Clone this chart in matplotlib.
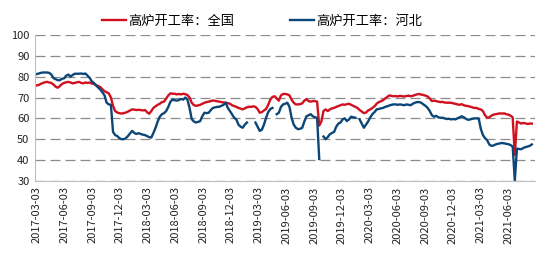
import numpy as np
import pandas as pd
import matplotlib
matplotlib.use("Agg")
import matplotlib.pyplot as plt

plt.rcParams["font.family"] = ["Noto Sans CJK SC", "DejaVu Sans"]

# weekly readings, one row per quarter (13 weeks), starting 2017-03-03
national = [
    75.8, 76, 76.5, 77, 77.3, 77.5, 77.2, 77, 76.2, 75.2, 74.7, 75.5, 76.5,
    77, 77.3, 77.5, 77.2, 76.8, 77, 77.3, 77.5, 77, 76.8, 77.2, 77, 77.2,
    76.7, 76.5, 76, 75.5, 75, 74, 73, 72.5, 72, 70, 66, 63.5, 62.8,
    62.5, 62.3, 62.5, 62.8, 63.2, 63.8, 64.3, 64.2, 64, 64.1, 64, 63.8, 64,
    63, 62.2, 63.5, 65, 65.8, 66.5, 67, 67.8, 68, 69.5, 71, 72, 71.8,
    71.8, 71.5, 71.7, 71.5, 71.8, 71.6, 71.2, 70, 67.5, 66.4, 66, 66.2, 66.5,
    67, 67.5, 67.8, 68, 68.3, 68.6, 68.4, 68.2, 68, 67.8, 67.6, 67.5, 67.3,
    67, 66.3, 65.9, 65.5, 65, 64.7, 64.3, 64.8, 65.3, 65.6, 65.5, 65.8, 65.5,
    64.5, 62.7, 63, 63.8, 64.5, 66.5, 69, 70.3, 70.6, 69.5, 68.5, 71, 71.7,
    71.7, 71.5, 71, 69, 67.5, 66.7, 66.7, 66.8, 67.2, 68.5, 69.2, 68.3, 68,
    68.3, 68.3, 68, 56.5, 58.5, 63.5, 64.3, 63.5, 64.3, 64.8, 65, 65.5, 65.9,
    66.3, 66.7, 66.5, 66.8, 67, 66.5, 66, 65.5, 65, 64, 63.3, 62.5, 62.8,
    63.8, 64.3, 65, 65.8, 67, 67.8, 68.2, 68.7, 69.5, 70.3, 71, 70.8, 70.6,
    70.7, 70.5, 70.8, 70.6, 70.5, 70.7, 70.9, 70.6, 70.8, 71.2, 71.5, 71.7, 71.4,
    71.2, 70.9, 70.5, 69.5, 68.3, 68.5, 68.3, 68, 67.8, 67.9, 67.6, 67.5, 67.5,
    67.5, 67.2, 67, 66.7, 66.5, 66.8, 66.3, 66, 65.9, 65.6, 65.3, 65, 65,
    64.5, 64.3, 63.5, 61.5, 60.3, 60.5, 61.3, 61.8, 62, 62.2, 62.4, 62.3, 62.4,
    62, 61.8, 61.3, 60.5, 42.5, 58.5, 58, 57.5, 57.8, 57.6, 57.3, 57.5, 57.5,
]

hebei = [
    81.2, 81.5, 81.8, 82, 82, 82, 81.8, 81, 79.3, 78.8, 78.3, 78.3, 79,
    79.2, 80.5, 81, 80, 80.8, 81.4, 81.4, 81.4, 81.5, 81.3, 81.5, 80.5, 79.4,
    77.8, 77, 75.8, 74.8, 73.8, 72.5, 71, 67.5, 66.7, 66.5, 53.5, 52, 51.5,
    50.5, 50, 50, 50.5, 51.5, 52.8, 54, 53, 52.5, 52.9, 52.5, 52.2, 52,
    51.5, 51, 50.8, 53, 55.5, 58.5, 60.8, 62, 62.5, 63.5, 65.5, 68, 69,
    68.7, 68.5, 68.8, 69.3, 69, 70, 69, 65, 59.7, 58.5, 58, 58.3, 58.7,
    61, 62.7, 62.5, 62.7, 64, 65, 65.3, 65.5, 65.6, 66, 66.5, 67.5, 65,
    63.5, 61.9, 60.3, 59.5, 57, 56, 55.5, 57, 58, np.nan, np.nan, np.nan, 58,
    56, 54, 54.5, 57, 60.3, 63, 64.5, 65, np.nan, 62, 62.7, 65.5, 66.7,
    67, 67.5, 65.5, 60.3, 57, 55.5, 54.8, 55, 55.5, 58.5, 61, 61.5, 62,
    61, 60.5, 60.3, 40.5, np.nan, 51.3, 50, 51, 52.4, 53, 53.5, 56, 57.5,
    58, 59.5, 60, 58.7, 59.5, 60.8, 60.5, 60.3, np.nan, 59.5, 57.5, 55.5, 57,
    58.5, 60.5, 62, 63, 64.3, 64.5, 64.8, 65, 65.5, 65.8, 66.2, 66.5, 66.7,
    66.7, 66.5, 66.7, 66.5, 66.3, 66.7, 66.5, 66.3, 67, 67.5, 67.8, 67.8, 67.5,
    66.7, 66, 65, 63.5, 61.5, 60.8, 61.2, 60.5, 60.3, 60.3, 60, 59.7, 59.8,
    59.5, 59.7, 59.5, 60, 60.5, 61, 60.5, 59.8, 59.3, 59.5, 59.8, 60, 60,
    60, 55, 52, 50.5, 49.5, 47.5, 46.8, 47, 47.5, 47.8, 48, 48.2, 48,
    47.8, 47.6, 47.2, 46.5, 30.2, 45.5, 45.3, 45.2, 45.8, 46.2, 46.5, 46.8, 47.5,
]

tick_labels = [
    "2017-03-03", "2017-06-03", "2017-09-03", "2017-12-03",
    "2018-03-03", "2018-06-03", "2018-09-03", "2018-12-03",
    "2019-03-03", "2019-06-03", "2019-09-03", "2019-12-03",
    "2020-03-03", "2020-06-03", "2020-09-03", "2020-12-03",
    "2021-03-03", "2021-06-03",
]

dates = pd.date_range("2017-03-03", periods=len(national), freq="7D")
tick_dates = pd.to_datetime(tick_labels)

fig = plt.figure(figsize=(5.5, 2.57), dpi=100)
ax = fig.add_axes([0.0636, 0.296, 0.9094, 0.568])

ax.plot(dates, national, color="#D0101E", lw=1.7, label="高炉开工率：全国")
ax.plot(dates, hebei, color="#0B4677", lw=1.7, label="高炉开工率：河北")

ax.set_ylim(30, 100)
ax.set_yticks(range(30, 101, 10))
ax.set_xlim(pd.Timestamp("2017-02-26"), pd.Timestamp("2021-08-31"))
ax.set_xticks(tick_dates)
ax.set_xticklabels(tick_labels, rotation=90)
ax.tick_params(length=0, labelsize=8, colors="#222222", pad=4)

ax.grid(axis="y", color="#8c8c8c", lw=0.9, ls=(0, (8, 4)))
ax.set_axisbelow(True)
for side in ["top", "right"]:
    ax.spines[side].set_visible(False)
for side in ["left", "bottom"]:
    ax.spines[side].set_color("#bfbfbf")

fig.legend(loc="center", bbox_to_anchor=(0.477, 0.918), ncol=2, frameon=False,
           fontsize=9.5, handlelength=1.8, columnspacing=4.2, handletextpad=0.2)

fig.savefig("out.png", dpi=100)
